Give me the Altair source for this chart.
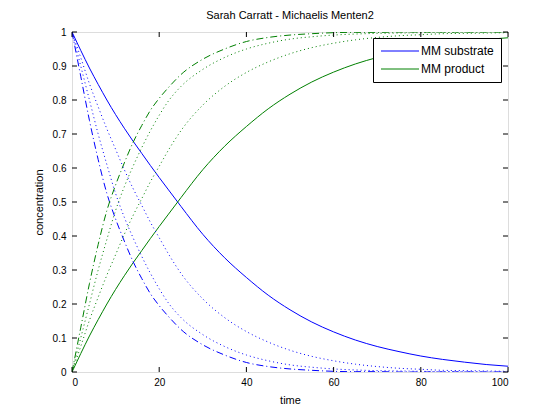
import altair as alt
import pandas as pd

# ---- data ----
T = [0, 2, 4, 6, 8, 10, 12, 14, 16, 18, 20, 22, 25, 30, 35, 40, 45, 50, 55, 60,
     65, 70, 75, 80, 85, 90, 95, 100]

SUB_SOLID = [1.0, 0.946, 0.894, 0.846, 0.80, 0.757, 0.717, 0.679, 0.643, 0.607,
             0.572, 0.538, 0.487, 0.405, 0.336, 0.278, 0.226, 0.183, 0.147, 0.118,
             0.094, 0.075, 0.06, 0.047, 0.037, 0.029, 0.022, 0.017]
PROD_SOLID = [0.0, 0.054, 0.106, 0.154, 0.20, 0.243, 0.283, 0.321, 0.357, 0.393,
              0.428, 0.462, 0.513, 0.595, 0.664, 0.722, 0.774, 0.817, 0.853, 0.882,
              0.906, 0.925, 0.94, 0.953, 0.963, 0.971, 0.978, 0.983]

SUB_DASHDOT = [1.0, 0.87, 0.74, 0.625, 0.525, 0.45, 0.385, 0.325, 0.275, 0.23,
               0.195, 0.165, 0.125, 0.08, 0.05, 0.028, 0.016, 0.009, 0.005, 0.002,
               0.001, 0.001, 0.0, 0.0, 0.0, 0.0, 0.0, 0.0]
PROD_DASHDOT = [0.0, 0.13, 0.26, 0.375, 0.475, 0.55, 0.615, 0.675, 0.725, 0.77,
                0.805, 0.835, 0.875, 0.92, 0.95, 0.972, 0.984, 0.991, 0.995, 0.998,
                0.999, 0.999, 1.0, 1.0, 1.0, 1.0, 1.0, 1.0]

SUB_DOT1 = [1.0, 0.9, 0.8, 0.7, 0.61, 0.525, 0.455, 0.395, 0.34, 0.29,
            0.245, 0.205, 0.16, 0.11, 0.075, 0.05, 0.033, 0.021, 0.014, 0.009,
            0.006, 0.004, 0.003, 0.002, 0.001, 0.001, 0.0, 0.0]
PROD_DOT1 = [0.0, 0.1, 0.2, 0.3, 0.39, 0.475, 0.545, 0.605, 0.66, 0.71,
             0.755, 0.795, 0.84, 0.89, 0.925, 0.95, 0.967, 0.979, 0.986, 0.991,
             0.994, 0.996, 0.997, 0.998, 0.999, 0.999, 1.0, 1.0]

SUB_DOT2 = [1.0, 0.925, 0.848, 0.78, 0.715, 0.655, 0.595, 0.54, 0.49, 0.44,
            0.395, 0.35, 0.29, 0.215, 0.16, 0.119, 0.088, 0.064, 0.046, 0.033,
            0.023, 0.016, 0.011, 0.008, 0.005, 0.004, 0.003, 0.002]
PROD_DOT2 = [0.0, 0.075, 0.152, 0.22, 0.285, 0.345, 0.405, 0.46, 0.51, 0.56,
             0.605, 0.65, 0.71, 0.785, 0.84, 0.881, 0.912, 0.936, 0.954, 0.967,
             0.977, 0.984, 0.989, 0.992, 0.995, 0.996, 0.997, 0.998]

LEGEND_LABELS = ["MM substrate", "MM product"]
X_TICKS = [0, 20, 40, 60, 80, 100]
Y_TICKS = [0, 0.1, 0.2, 0.3, 0.4, 0.5, 0.6, 0.7, 0.8, 0.9, 1]

TITLE = "Sarah Carratt - Michaelis Menten2"
X_TITLE = "time"
Y_TITLE = "concentration"

# ---- styling ----
BLUE = "#0000ff"
GREEN = "#008000"
FONT = "Liberation Sans"
W, H = 436, 340
TICK = 5

xs = alt.Scale(domain=[0, 100], nice=False, zero=False)
ys = alt.Scale(domain=[0, 1], nice=False, zero=False)
X = alt.X("t:Q", scale=xs, title=X_TITLE,
          axis=alt.Axis(values=X_TICKS, format="d", grid=False, domain=False,
                        tickSize=0, labelPadding=5, titlePadding=7,
                        titleFontWeight="normal", titleFont=FONT, titleFontSize=11))
Y = alt.Y("c:Q", scale=ys, title=Y_TITLE,
          axis=alt.Axis(values=Y_TICKS, format="~g", grid=False, domain=False,
                        tickSize=0, labelPadding=6, titlePadding=8,
                        titleFontWeight="normal", titleFont=FONT, titleFontSize=11))


def curve(vals, color, dash=None):
    df = pd.DataFrame({"t": T, "c": vals})
    kw = dict(color=color, strokeWidth=1, interpolate="monotone", clip=True)
    if dash:
        kw["strokeDash"] = dash
    return alt.Chart(df).mark_line(**kw).encode(x=X, y=Y)


legend_df = pd.concat([
    pd.DataFrame({"t": T, "c": SUB_SOLID, "series": LEGEND_LABELS[0]}),
    pd.DataFrame({"t": T, "c": PROD_SOLID, "series": LEGEND_LABELS[1]}),
])

solid = alt.Chart(legend_df).mark_line(strokeWidth=1, interpolate="monotone", clip=True).encode(
    x=X, y=Y,
    color=alt.Color("series:N",
                    scale=alt.Scale(domain=LEGEND_LABELS, range=[BLUE, GREEN]),
                    sort=LEGEND_LABELS,
                    legend=alt.Legend(title=None, orient="none", legendX=301, legendY=6,
                                      strokeColor="black", fillColor="white",
                                      padding=7, rowPadding=6, symbolType="M-1,0H6.6",
                                      symbolSize=100, symbolStrokeWidth=1,
                                      labelFont=FONT, labelFontSize=12,
                                      labelColor="black", labelOffset=29,
                                      cornerRadius=0)),
)

DASHDOT = [7, 3, 1, 3]
DOTTED = [1, 3]

layers = [
    solid,
    curve(SUB_DASHDOT, BLUE, DASHDOT),
    curve(PROD_DASHDOT, GREEN, DASHDOT),
    curve(SUB_DOT1, BLUE, DOTTED),
    curve(PROD_DOT1, GREEN, DOTTED),
    curve(SUB_DOT2, BLUE, DOTTED),
    curve(PROD_DOT2, GREEN, DOTTED),
]

xt = pd.DataFrame({"t": X_TICKS})
yt = pd.DataFrame({"c": Y_TICKS})
tick_style = dict(color="black", strokeWidth=1)
layers += [
    alt.Chart(xt).mark_rule(**tick_style).encode(x=X, y=alt.value(H), y2=alt.value(H - TICK)),
    alt.Chart(xt).mark_rule(**tick_style).encode(x=X, y=alt.value(0), y2=alt.value(TICK)),
    alt.Chart(yt).mark_rule(**tick_style).encode(y=Y, x=alt.value(0), x2=alt.value(TICK)),
    alt.Chart(yt).mark_rule(**tick_style).encode(y=Y, x=alt.value(W), x2=alt.value(W - TICK)),
]

chart = alt.layer(*layers).properties(
    width=W, height=H,
    title=alt.TitleParams(TITLE, font=FONT, fontSize=11, fontWeight="normal",
                          color="black", offset=6),
    autosize=alt.AutoSizeParams(type="none"),
    padding={"left": 64, "top": 24, "right": 40, "bottom": 40},
).configure_view(stroke="black", strokeWidth=1).configure_axis(
    labelFont=FONT, labelFontSize=11, labelColor="black",
    titleFont=FONT, titleFontSize=11, titleFontWeight="normal", titleColor="black",
).configure(background="white")

chart.save("out.html", embed_options={"renderer": "svg", "actions": False})
